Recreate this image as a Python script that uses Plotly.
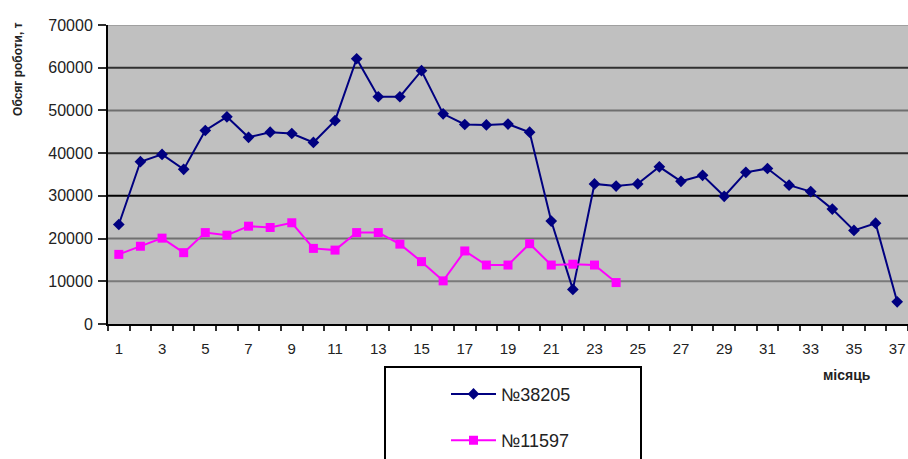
import plotly.graph_objects as go

# Monthly work volume, tonnes
months_a = list(range(1, 38))
volume_38205 = [23300, 38000, 39700, 36200, 45300, 48500, 43700, 44900, 44600, 42500,
                47600, 62100, 53200, 53200, 59300, 49200, 46700, 46600, 46800, 44900,
                24100, 8100, 32800, 32300, 32800, 36800, 33400, 34800, 29900, 35500,
                36400, 32500, 31000, 26900, 21900, 23600, 5200]
months_b = list(range(1, 25))
volume_11597 = [16300, 18200, 20100, 16700, 21400, 20800, 22900, 22600, 23700, 17700,
                17300, 21400, 21400, 18700, 14600, 10100, 17100, 13800, 13800, 18800,
                13800, 14000, 13800, 9700]

x_tick_labels = [str(m) for m in range(1, 38, 2)]
y_ticks = list(range(0, 70001, 10000))
y_tick_labels = [str(v) for v in y_ticks]
grid_colors = {10000: "#7a7a7a", 20000: "#707070", 30000: "#000000", 40000: "#303030",
               50000: "#6e6e6e", 60000: "#303030", 70000: "#a0a0a0"}

FONT = "Liberation Sans, Arial, sans-serif"

fig = go.Figure()
fig.add_trace(go.Scatter(
    x=months_a, y=volume_38205, name="№38205", mode="lines+markers",
    line=dict(color="#000080", width=2),
    marker=dict(symbol="diamond", size=9, color="#000080"),
    legendgroup="a",
))
fig.add_trace(go.Scatter(
    x=months_b, y=volume_11597, name="№11597", mode="lines+markers",
    line=dict(color="#ff00ff", width=2),
    marker=dict(symbol="square", size=9, color="#ff00ff"),
    legendgroup="b",
))

shapes = []
for v in y_ticks[1:]:
    shapes.append(dict(type="line", xref="paper", yref="y", x0=0, x1=1, y0=v, y1=v,
                       line=dict(color=grid_colors[v], width=2), layer="below"))
# legend frame
shapes.append(dict(type="rect", xref="paper", yref="paper",
                   x0=0.34625, x1=0.66625, y0=-0.49, y1=-0.1438,
                   line=dict(color="#000000", width=2), fillcolor="rgba(0,0,0,0)"))

fig.update_layout(
    width=908, height=459,
    margin=dict(l=108, r=0, t=25, b=135),
    paper_bgcolor="#ffffff", plot_bgcolor="#c0c0c0",
    font=dict(family=FONT, color="#222222"),
    showlegend=True,
    legend=dict(x=0.4225, y=-0.173, xanchor="left", yanchor="top",
                font=dict(size=18, family=FONT, color="#222222"),
                bgcolor="rgba(0,0,0,0)", borderwidth=0,
                tracegroupgap=20, itemwidth=45),
    shapes=shapes,
    annotations=[
        dict(text="<b>Обсяг роботи, т</b>", xref="paper", yref="paper",
             x=-0.1125, y=0.853, xanchor="center", yanchor="middle",
             textangle=-90, showarrow=False,
             font=dict(size=12, family=FONT, color="#222222")),
        dict(text="<b>місяць</b>", xref="paper", yref="paper",
             x=(847 - 108) / 800, y=(324 - 375) / 299,
             xanchor="center", yanchor="middle", showarrow=False,
             font=dict(size=14, family=FONT, color="#222222")),
    ],
)

fig.update_xaxes(
    range=[0.5, 37.5], tickmode="array",
    tickvals=list(range(1, 38, 2)), ticktext=x_tick_labels,
    ticks="", showgrid=False, zeroline=False,
    showline=True, linecolor="#000000", linewidth=2,
    ticklabelstandoff=10,
    tickfont=dict(size=15, family=FONT, color="#222222"),
    minor=dict(tick0=0.5, dtick=1, ticks="outside", ticklen=5,
               tickcolor="#303030", tickwidth=2, showgrid=False),
)
fig.update_yaxes(
    range=[0, 70000], tickmode="array", tickvals=y_ticks, ticktext=y_tick_labels,
    ticks="outside", ticklen=8, tickcolor="#303030", tickwidth=2,
    ticklabelstandoff=2,
    showgrid=False, zeroline=False,
    showline=True, linecolor="#000000", linewidth=2,
    tickfont=dict(size=16, family=FONT, color="#222222"),
)

fig.write_html("out.html")
